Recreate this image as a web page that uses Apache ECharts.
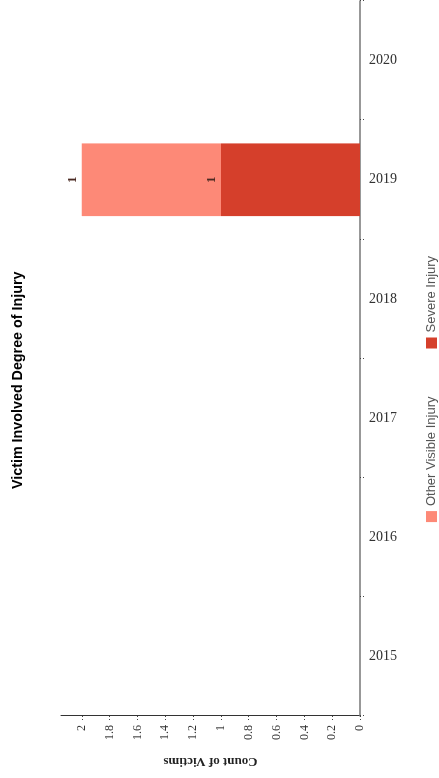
<!DOCTYPE html>
<html>
<head>
<meta charset="utf-8">
<script src="https://cdn.jsdelivr.net/npm/echarts@6/dist/echarts.min.js"></script>
<style>
html,body{margin:0;padding:0;width:439px;height:778px;overflow:hidden;background:#fff;}
#chart{position:absolute;left:0;top:0;width:778px;height:439px;transform-origin:0 0;transform:translate(0,778px) rotate(-90deg);}
</style>
</head>
<body>
<div id="chart"></div>
<script>
const title = 'Victim Involved Degree of Injury';
const categories = ['2015', '2016', '2017', '2018', '2019', '2020'];
const severeInjury = [0, 0, 0, 0, 1, 0];
const otherVisibleInjury = [0, 0, 0, 0, 1, 0];
const seriesNames = ['Other Visible Injury', 'Severe Injury'];
const valueAxisName = 'Count of Victims';

const chart = echarts.init(document.getElementById('chart'), null, {renderer: 'canvas'});
const labelCfg = {
  show: true,
  position: 'top',
  distance: 3,
  color: '#4a2a22',
  fontFamily: 'Liberation Serif',
  fontWeight: 'bold',
  fontSize: 13,
  formatter: p => (p.value ? String(p.value) : '')
};
chart.setOption({
  backgroundColor: '#ffffff',
  animation: false,
  title: {
    text: title,
    left: 289,
    top: 11,
    padding: 0,
    textStyle: {fontFamily: 'Liberation Sans', fontWeight: 'bold', fontSize: 14.3, color: '#000'}
  },
  legend: {
    data: seriesNames,
    left: 'center',
    top: 425,
    padding: 0,
    itemWidth: 11,
    itemHeight: 11,
    itemGap: 48,
    icon: 'rect',
    textStyle: {fontFamily: 'Liberation Sans', fontSize: 13, color: '#555'}
  },
  grid: {left: 62, right: 1, top: 61, bottom: 79, containLabel: false},
  xAxis: {
    type: 'category',
    data: categories,
    boundaryGap: true,
    axisLine: {lineStyle: {color: '#777', width: 1.5}},
    axisTick: {show: true, length: 4, lineStyle: {color: '#444', type: [1, 2]}},
    axisLabel: {rotate: -90, margin: 9, fontFamily: 'Liberation Serif', fontSize: 14, color: '#333'},
    splitLine: {show: false}
  },
  yAxis: {
    type: 'value',
    min: 0,
    max: 2.15,
    interval: 0.2,
    name: valueAxisName,
    nameLocation: 'middle',
    nameRotate: 90,
    nameGap: 39,
    nameTextStyle: {fontFamily: 'Liberation Serif', fontWeight: 'bold', fontSize: 13, color: '#222'},
    axisLine: {show: true, lineStyle: {color: '#333', width: 1}},
    axisTick: {show: true, length: 4, lineStyle: {color: '#444', type: [1, 2]}},
    axisLabel: {showMaxLabel: false, margin: 9, fontFamily: 'Liberation Serif', fontSize: 12, color: '#333'},
    splitLine: {show: false}
  },
  series: [
    {
      name: 'Severe Injury',
      type: 'bar',
      stack: 'total',
      data: severeInjury,
      barWidth: '61%',
      itemStyle: {color: '#d53f2b'},
      label: labelCfg
    },
    {
      name: 'Other Visible Injury',
      type: 'bar',
      stack: 'total',
      data: otherVisibleInjury,
      barWidth: '61%',
      itemStyle: {color: '#fd8977'},
      label: labelCfg
    }
  ]
});
</script>
</body>
</html>
